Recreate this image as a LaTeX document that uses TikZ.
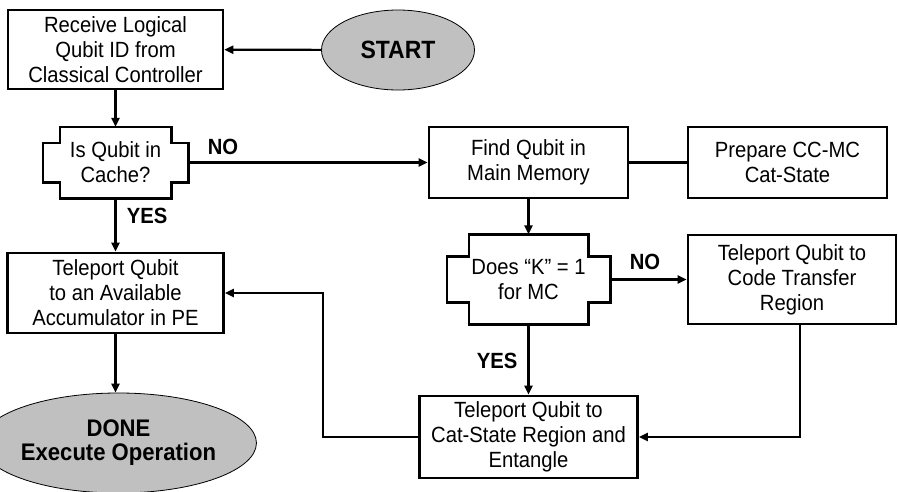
\documentclass[tikz,border=0pt]{standalone}
\usepackage{fontspec}
\setmainfont[FakeStretch=0.92]{Liberation Sans}
\usetikzlibrary{arrows.meta,calc,shapes.geometric}

% Notched decision outline around a node: #1 node, #2 notch width, #3 notch height
\newcommand\decoutline[3]{%
  \draw[boxline] ([xshift=#2]#1.north west) -- ([xshift=-#2]#1.north east)
    -- ([xshift=-#2,yshift=-#3]#1.north east) -- ([yshift=-#3]#1.north east)
    -- ([yshift=#3]#1.south east) -- ([xshift=-#2,yshift=#3]#1.south east)
    -- ([xshift=-#2]#1.south east) -- ([xshift=#2]#1.south west)
    -- ([xshift=#2,yshift=#3]#1.south west) -- ([yshift=#3]#1.south west)
    -- ([yshift=-#3]#1.north west) -- ([xshift=#2,yshift=-#3]#1.north west)
    -- cycle;}

\begin{document}
\begin{tikzpicture}[x=1pt,y=-1pt,
  every node/.style={font=\fontsize{22}{25}\selectfont, align=center, inner sep=0pt},
  boxline/.style={line width=2.6pt, line join=miter},
  stepbox/.style={draw, boxline},
  decision/.style={},
  terminal/.style={draw, ellipse, fill=termgray, line width=0.8pt},
  conn/.style={line width=2.2pt},
  arrow/.style={conn, -{Triangle[length=9pt,width=8pt]}},
  answer/.style={font=\fontsize{22}{25}\selectfont\bfseries}
]
\definecolor{termgray}{RGB}{192,192,192}
\useasboundingbox (0,0) rectangle (898,491);

% Terminals
\node[terminal, minimum width=153pt, minimum height=80pt,
      font=\fontsize{25}{27}\selectfont\bfseries] (start) at (398,50) {START};
\node[terminal, minimum width=223pt, minimum height=100pt,
      font=\fontsize{24}{24}\selectfont\bfseries] (done) at (118.5,443)
      {DONE\\Execute Operation};

% Process boxes
\node[stepbox, minimum width=215pt, minimum height=79pt] (recv) at (115.5,49.5)
      {Receive Logical\\Qubit ID from\\Classical Controller};
\node[stepbox, minimum width=199pt, minimum height=71pt] (find) at (528.5,162.5)
      {Find Qubit in\\Main Memory};
\node[stepbox, minimum width=199pt, minimum height=71pt] (prep) at (787.5,162.5)
      {Prepare CC-MC\\Cat-State};
\node[stepbox, minimum width=216pt, minimum height=80pt] (accum) at (115.5,293)
      {Teleport Qubit\\to an Available\\Accumulator in PE};
\node[stepbox, minimum width=208pt, minimum height=89pt] (code) at (792,279.5)
      {Teleport Qubit to\\Code Transfer\\Region};
\node[stepbox, minimum width=218pt, minimum height=82pt] (cat) at (528.5,437)
      {Teleport Qubit to\\Cat-State Region and\\Entangle};

% Decisions
\node[decision, minimum width=145pt, minimum height=71pt] (cache) at (115.5,162.5)
      {Is Qubit in\\Cache?};
\decoutline{cache}{17pt}{16pt}
\node[decision, minimum width=163pt, minimum height=90pt] (kone) at (528.5,279.5)
      {Does “K” = 1\\for MC};
\decoutline{kone}{22pt}{22pt}

% Connectors
\draw[arrow] (start) -- (recv);
\draw[arrow] (recv) -- (cache);
\draw[arrow] (cache) -- (find);
\draw[arrow] (cache) -- (accum);
\draw[conn] (find) -- (prep);
\draw[arrow] (find) -- (kone);
\draw[arrow] (kone) -- (code);
\draw[arrow] (kone) -- (cat);
\coordinate (codeout) at ([xshift=8pt]code.south);
\draw[arrow] (codeout) |- (cat.east);
\coordinate (loopcorner) at (323,437);
\draw[arrow] (cat.west) -- (loopcorner) |- (accum.east);
\draw[arrow] (accum.south) -- (accum.south |- done.north);

% Branch labels
\node[answer] (no1) at (223,147) {NO};
\node[answer] (yes1) at (147,216) {YES};
\node[answer] (no2) at (645,262) {NO};
\node[answer] (yes2) at (497,361) {YES};
\end{tikzpicture}
\end{document}
